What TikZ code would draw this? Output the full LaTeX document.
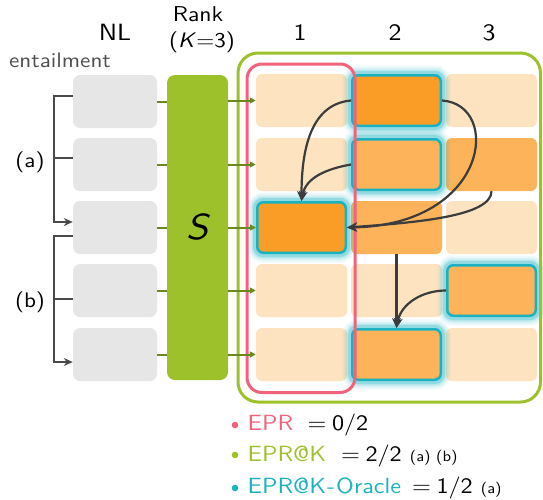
\documentclass[tikz,border=0pt]{standalone}
\usepackage{fontspec}
\setsansfont{lmsans10-regular.otf}[FakeStretch=1.1, ItalicFont=lmsans10-oblique.otf, BoldFont=lmsans10-bold.otf]
\newfontfamily\legendfont{lmsans10-regular.otf}[FakeStretch=1.1]
\usetikzlibrary{arrows.meta}

\definecolor{nlgray}{HTML}{E6E6E6}
\definecolor{rankgreen}{HTML}{9CC12B}
\definecolor{feedolive}{HTML}{6A8A1F}
\definecolor{peach}{HTML}{FDE3C0}
\definecolor{midorange}{HTML}{FDB35A}
\definecolor{deeporange}{HTML}{F99D26}
\definecolor{oracle}{HTML}{1AB1C1}
\definecolor{eprpink}{HTML}{F2627B}
\definecolor{arrowdark}{HTML}{3C3C3C}
\definecolor{bracketgray}{HTML}{4A4A4A}
\definecolor{labelgray}{HTML}{505050}

% soft cyan halo around a 91x53 cell centred at (#1,#2)
\newcommand\oracleglow[2]{%
  \foreach \w/\o in {17/0.07,13/0.1,9/0.16,6/0.25}{%
    \draw[oracle, line width=\w pt, draw opacity=\o, rounded corners=7pt]
      (#1-45.5,#2-26.5) rectangle (#1+45.5,#2+26.5);
  }}
\newcommand\fsz[1]{\fontsize{#1}{#1}\selectfont}

\begin{document}
\begin{tikzpicture}[x=1pt,y=1pt,
  font=\sffamily\fsz{22},
  nlbox/.style={fill=nlgray, rounded corners=7pt, minimum width=84pt, minimum height=53pt, inner sep=0pt},
  cell/.style={rounded corners=6pt, minimum width=91pt, minimum height=53pt, inner sep=0pt},
  light/.style={cell, fill=peach},
  mid/.style={cell, fill=midorange},
  deep/.style={cell, fill=deeporange},
  picked/.style={draw=oracle, line width=2.5pt, minimum width=88.5pt, minimum height=50.5pt},
  feed/.style={feedolive, line width=2pt},
  feedarrow/.style={feed, -{Triangle[length=6pt,width=6pt]}},
  bracket/.style={bracketgray, line width=2.2pt},
  bracketarrow/.style={bracket, -{Stealth[length=9pt,width=8pt]}},
  hop/.style={arrowdark, line width=2.2pt, -{Stealth[length=10pt,width=9pt]}},
  lbl/.style={anchor=base, inner sep=0pt},
  legend/.style={anchor=base west, inner sep=0pt, font=\legendfont\fsz{22}},
]
\useasboundingbox (0,-499) rectangle (543,0);

% column headers
\node[lbl, font=\sffamily\fsz{23.5}] (hnl) at (115,-40) {NL};
\node[lbl, font=\sffamily\fsz{21.5}] (hrank) at (198,-21) {Rank};
\node[lbl, font=\sffamily\fsz{21}] (hk) at (202,-47) {(\textit{K}=3)};
\node[lbl, font=\sffamily\fsz{23.5}] (h1) at (300,-40) {1};
\node[lbl, font=\sffamily\fsz{23.5}] (h2) at (395,-40) {2};
\node[lbl, font=\sffamily\fsz{23.5}] (h3) at (489,-40) {3};
\node[lbl, text=labelgray, font=\sffamily\fsz{21}] (hent) at (60,-67) {entailment};

% natural-language inputs
\node[nlbox] (n1) at (115,-101.5) {};
\node[nlbox] (n2) at (115,-164.5) {};
\node[nlbox] (n3) at (115,-227.5) {};
\node[nlbox] (n4) at (115,-290.5) {};
\node[nlbox] (n5) at (115,-354.5) {};

% ranking model
\node[fill=rankgreen, rounded corners=8pt, minimum width=61pt, minimum height=305pt, inner sep=0pt]
  (rank) at (197.5,-227.5) {\fsz{36}\itshape S};

% candidate grid: plain cells
\node[light] (c11) at (301.5,-100.5) {};
\node[light] (c13) at (491.5,-100.5) {};
\node[light] (c21) at (301.5,-164.5) {};
\node[mid]   (c23) at (491.5,-164.5) {};
\node[mid]   (c32) at (396.5,-227.5) {};
\node[light] (c33) at (491.5,-227.5) {};
\node[light] (c41) at (301.5,-290.5) {};
\node[light] (c42) at (396.5,-290.5) {};
\node[light] (c51) at (301.5,-354.5) {};
\node[light] (c53) at (491.5,-354.5) {};

% halos of the oracle-selected cells
\oracleglow{396.5}{-100.5}
\oracleglow{396.5}{-164.5}
\oracleglow{301.5}{-227.5}
\oracleglow{491.5}{-290.5}
\oracleglow{396.5}{-354.5}

% oracle-selected cells
\node[deep, picked] (c12) at (396.5,-100.5) {};
\node[mid,  picked] (c22) at (396.5,-164.5) {};
\node[deep, picked] (c31) at (301.5,-227.5) {};
\node[mid,  picked] (c43) at (491.5,-290.5) {};
\node[mid,  picked] (c52) at (396.5,-354.5) {};

% top-K frame and top-1 column
\draw[rankgreen, line width=3pt, rounded corners=20pt] (238,-53) rectangle (540.5,-402);
\draw[eprpink, line width=3pt, rounded corners=15pt] (247,-64) rectangle (355,-392.5);

% feeds through the ranker
\foreach \i in {1,...,5}{
  \draw[feed] (n\i.east) -- (n\i.east -| rank.west);
  \draw[feedarrow] (c\i1.west -| rank.east) -- (c\i1.west);
}

% entailment brackets
\draw[bracketarrow] ([yshift=5.5pt]n1.west) -- ++(-19,0) |- ([yshift=5.5pt]n3.west);
\draw[bracket] ([yshift=6.5pt]n2.west) -- ++(-19,0);
\node[lbl, font=\sffamily\fsz{21}] (la) at (30,-167) {(a)};
\draw[bracketarrow] ([yshift=-8.5pt]n3.west) -- ++(-19,0) |- ([yshift=-7.5pt]n5.west);
\draw[bracket] ([yshift=-8.5pt]n4.west) -- ++(-19,0);
\node[lbl, font=\sffamily\fsz{21}] (lb) at (30,-307) {(b)};

% entailment links between candidates
\draw[hop] (c12.west) to[out=185,in=90] (c31.north);
\draw[hop] (c22.west) to[out=190,in=80] (c31.north);
\draw[hop] (c12.east) .. controls +(60,-4) and +(142,2.5) .. (c31.east);
\draw[hop] (c23.south) .. controls +(0,-25) and +(70,5) .. (c31.east);
\draw[hop] (c32.south) -- (c52.north);
\draw[hop] (c43.west) to[out=180,in=80] (c52.north);

% legend
\fill[eprpink] (235,-425) circle (3.3pt);
\node[legend, text=eprpink] (m1) at (247.5,-430) {EPR};
\node[legend] (v1) at (307.5,-430) {=\hspace{5.5pt}0/2};
\fill[rankgreen] (235,-455) circle (3.3pt);
\node[legend, text=rankgreen] (m2) at (247.5,-461) {EPR@K};
\node[legend] (v2) at (341,-461) {=\hspace{5.5pt}2/2 {\fsz{15}(a) (b)}};
\fill[oracle] (235,-488) circle (3.3pt);
\node[legend, text=oracle] (m3) at (247.5,-493) {EPR@K\kern1pt-\kern1pt Oracle};
\node[legend] (v3) at (412,-493) {=\hspace{5.5pt}1/2 {\fsz{15}(a)}};
\end{tikzpicture}
\end{document}
